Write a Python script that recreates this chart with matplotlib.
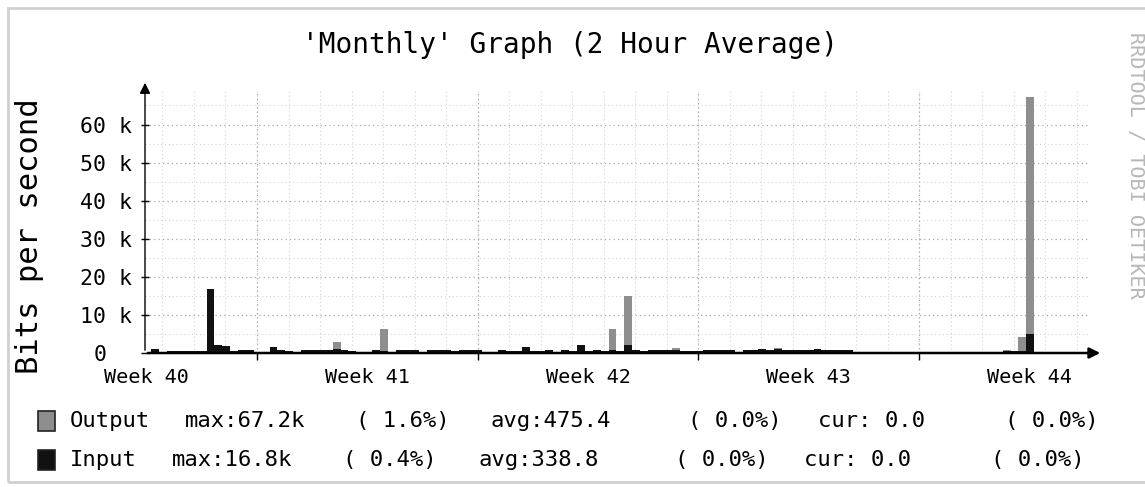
import matplotlib

matplotlib.use("Agg")
import matplotlib.pyplot as plt
from matplotlib.patches import Rectangle
from matplotlib.transforms import blended_transform_factory

FIG_W, FIG_H = 1145, 487
MONO = "DejaVu Sans Mono"

# 6-hour bins; x is in days counted from the start of Week 41
BIN_START = -3.35
BIN_DAYS = 0.25

# bits per second, in thousands
input_k = [
    1.1, 0.0, 0.5, 0.5, 0.5, 0.5, 0.4, 16.8, 2.0, 1.8,
    0.6, 0.7, 0.7, 0.0, 0.0, 1.5, 0.8, 0.6, 0.0, 0.7,
    0.7, 0.7, 0.8, 1.0, 0.8, 0.6, 0.0, 0.0, 0.8, 0.6,
    0.0, 0.8, 0.8, 0.8, 0.3, 0.7, 0.7, 0.7, 0.6, 0.7,
    0.8, 0.8, 0.0, 0.3, 0.7, 0.6, 0.5, 1.7, 0.6, 0.6,
    0.8, 0.3, 0.8, 0.5, 2.2, 0.5, 0.7, 0.6, 0.7, 0.4,
    2.2, 0.7, 0.6, 0.7, 0.7, 0.7, 0.7, 0.6, 0.6, 0.4,
    0.7, 0.7, 0.8, 0.7, 0.2, 0.9, 0.9, 1.0, 0.9, 1.0,
    0.8, 0.9, 0.8, 0.9, 1.0, 0.8, 0.9, 0.8, 0.7, 0.0,
    0.0, 0.0, 0.0, 0.0, 0.0, 0.0, 0.0, 0.0, 0.0, 0.0,
    0.0, 0.0, 0.0, 0.0, 0.0, 0.0, 0.0, 0.0, 0.5, 0.5,
    0.4, 5.0, 0.0, 0.0, 0.0, 0.0, 0.0, 0.0, 0.0, 0.0,
]
output_k = [
    0.6, 0.0, 0.3, 0.3, 0.3, 0.3, 0.2, 1.0, 1.2, 1.0,
    0.4, 0.4, 0.4, 0.0, 0.0, 0.9, 0.5, 0.3, 0.0, 0.4,
    0.4, 0.4, 0.6, 3.0, 0.5, 0.3, 0.0, 0.0, 0.5, 6.4,
    0.0, 0.5, 0.5, 0.5, 0.2, 0.4, 0.4, 0.4, 0.3, 0.4,
    0.5, 0.5, 0.0, 0.2, 0.4, 0.3, 0.3, 1.0, 0.3, 0.3,
    0.5, 0.2, 0.5, 0.3, 1.3, 0.3, 0.4, 0.3, 6.4, 0.2,
    15.0, 0.4, 0.3, 0.4, 0.4, 0.4, 1.4, 0.3, 0.3, 0.2,
    0.4, 0.4, 0.5, 0.4, 0.1, 0.5, 0.5, 0.6, 0.5, 1.2,
    0.5, 0.5, 0.5, 0.5, 0.6, 0.5, 0.5, 0.5, 0.4, 0.0,
    0.0, 0.0, 0.0, 0.0, 0.0, 0.0, 0.0, 0.0, 0.0, 0.0,
    0.0, 0.0, 0.0, 0.0, 0.0, 0.0, 0.0, 0.0, 0.8, 0.3,
    4.3, 67.2, 0.0, 0.0, 0.0, 0.0, 0.0, 0.0, 0.0, 0.0,
]

week_names = ["Week 40", "Week 41", "Week 42", "Week 43", "Week 44"]
week_label_days = [-3.5, 3.5, 10.5, 17.5, 24.5]
week_start_days = [0, 7, 14, 21]
day_lines = list(range(-3, 27))

y_ticks = [0, 10, 20, 30, 40, 50, 60]
y_tick_labels = ["0  ", "10 k", "20 k", "30 k", "40 k", "50 k", "60 k"]
y_minor = [5, 15, 25, 35, 45, 55, 65]

output_fields = ["Output", "max:67.2k", "( 1.6%)", "avg:475.4", "( 0.0%)", "cur: 0.0", "( 0.0%)"]
input_fields = ["Input", "max:16.8k", "( 0.4%)", "avg:338.8", "( 0.0%)", "cur: 0.0", "( 0.0%)"]

OUTPUT_COLOR = "#8e8e8e"
INPUT_COLOR = "#111111"


def fx(px):
    return px / FIG_W


def fy(py):
    return 1 - py / FIG_H


def main():
    fig = plt.figure(figsize=(FIG_W / 100, FIG_H / 100), dpi=100)
    fig.patch.set_facecolor("white")

    # plot area: x from 145 to 1103 px, y=0 at 353 px, arrow top at 80 px
    ax = fig.add_axes([fx(145), fy(353), fx(1103) - fx(145), fy(80) - fy(353)])
    ax.set_facecolor("white")
    ax.set_xlim((145 - 257) / 31.53, (1103 - 257) / 31.53)
    ax.set_ylim(0, (353 - 80) / 3.808)

    x = [BIN_START + BIN_DAYS * i for i in range(len(input_k))]
    ax.bar(x, output_k, width=BIN_DAYS, align="edge", color=OUTPUT_COLOR,
           linewidth=0, zorder=3)
    ax.bar(x, input_k, width=BIN_DAYS, align="edge", color=INPUT_COLOR,
           linewidth=0, zorder=4)

    # grid
    dots = (0, (1, 2.5))
    for d in day_lines:
        ax.axvline(d, ymax=0.96, color="#d4d4d4", lw=0.8, ls=dots, zorder=1)
    for d in week_start_days:
        ax.axvline(d, ymax=0.96, color="#a8a8a8", lw=0.9, ls=dots, zorder=1)
    for v in y_minor:
        ax.axhline(v, xmax=0.985, color="#d4d4d4", lw=0.8, ls=dots, zorder=1)
    for v in y_ticks[1:]:
        ax.axhline(v, xmax=0.985, color="#a8a8a8", lw=0.9, ls=dots, zorder=1)

    for s in ax.spines.values():
        s.set_visible(False)

    ax.set_yticks(y_ticks, y_tick_labels)
    ax.tick_params(axis="y", direction="inout", length=6, width=1,
                   pad=6.0, labelsize=15.5)
    for lab in ax.get_yticklabels():
        lab.set_fontfamily(MONO)
    ax.set_xticks(week_start_days, [""] * len(week_start_days))
    ax.tick_params(axis="x", direction="out", length=5, width=1)

    trans = blended_transform_factory(ax.transData, ax.transAxes)
    for name, d in zip(week_names, week_label_days):
        ax.text(d, -0.088, name, transform=trans, ha="center", va="center",
                fontsize=14.5, family=MONO, clip_on=False)

    # axis lines with arrow heads
    ax.annotate("", xy=(1.0, 0), xytext=(0, 0), xycoords="axes fraction",
                arrowprops=dict(arrowstyle="-|>", color="black", lw=1.8,
                                mutation_scale=16), zorder=6)
    ax.annotate("", xy=(0, 1.0), xytext=(0, 0), xycoords="axes fraction",
                arrowprops=dict(arrowstyle="-|>", color="black", lw=1.0,
                                mutation_scale=16), zorder=6)

    fig.text(fx(570), fy(45), "'Monthly' Graph (2 Hour Average)", ha="center",
             va="center", fontsize=20, family=MONO)
    fig.text(fx(30), fy(236), "Bits per second", rotation=90, ha="center",
             va="center", fontsize=22, family=MONO)
    fig.text(fx(1135), fy(165), "RRDTOOL / TOBI OETIKER", rotation=270,
             ha="center", va="center", fontsize=14.5, family=MONO,
             color="#b8b8b8")

    # legend
    row1_x = [70, 185, 356, 490, 688, 818, 1005]
    row2_x = [70, 172, 343, 478, 675, 804, 991]
    for fields, xs, yc, color in [(output_fields, row1_x, 421, OUTPUT_COLOR),
                                  (input_fields, row2_x, 460, INPUT_COLOR)]:
        fig.add_artist(Rectangle((fx(38), fy(yc + 10)), fx(55) - fx(38),
                                 fy(yc - 10) - fy(yc + 10),
                                 transform=fig.transFigure, facecolor=color,
                                 edgecolor="#222222", lw=1.2))
        for text, px in zip(fields, xs):
            fig.text(fx(px), fy(yc), text, ha="left", va="center",
                     fontsize=16, family=MONO)

    # faint outer frame
    fig.add_artist(Rectangle((fx(8), fy(482)), fx(1160) - fx(8),
                             fy(8) - fy(482), transform=fig.transFigure,
                             fill=False, edgecolor="#d0d0d0", lw=2))

    fig.savefig("out.png", dpi=100)
    plt.close(fig)


if __name__ == "__main__":
    main()
